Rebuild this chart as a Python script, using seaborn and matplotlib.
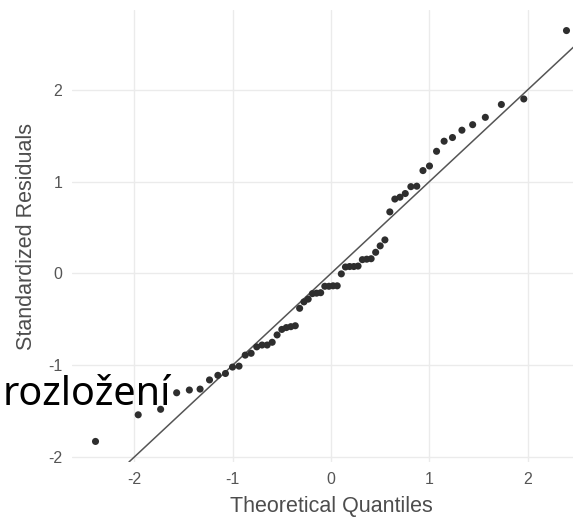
import matplotlib
matplotlib.use("Agg")
import matplotlib.pyplot as plt
import seaborn as sns
import pandas as pd

# Theoretical normal quantiles (n = 60)
theoretical = [-2.394, -1.960, -1.732, -1.569, -1.440, -1.331, -1.235, -1.150, -1.073, -1.001,
               -0.935, -0.872, -0.812, -0.755, -0.701, -0.649, -0.598, -0.548, -0.500, -0.454,
               -0.408, -0.363, -0.319, -0.275, -0.232, -0.189, -0.147, -0.105, -0.063, -0.021,
               0.021, 0.063, 0.105, 0.147, 0.189, 0.232, 0.275, 0.319, 0.363, 0.408,
               0.454, 0.500, 0.548, 0.598, 0.649, 0.701, 0.755, 0.812, 0.872, 0.935,
               1.001, 1.073, 1.150, 1.235, 1.331, 1.440, 1.569, 1.732, 1.960, 2.394]
# Sorted standardized residuals
residuals = [-1.83, -1.54, -1.48, -1.30, -1.27, -1.26, -1.16, -1.11, -1.09, -1.02,
             -1.01, -0.89, -0.87, -0.80, -0.78, -0.78, -0.75, -0.67, -0.61, -0.59,
             -0.58, -0.57, -0.38, -0.31, -0.28, -0.22, -0.215, -0.21, -0.14, -0.14,
             -0.135, -0.135, -0.005, 0.07, 0.075, 0.075, 0.08, 0.15, 0.155, 0.16,
             0.23, 0.30, 0.365, 0.67, 0.81, 0.83, 0.87, 0.945, 0.95, 1.12,
             1.17, 1.33, 1.44, 1.48, 1.56, 1.62, 1.70, 1.84, 1.90, 2.645]
x_ticks = [-2, -1, 0, 1, 2]
y_ticks = [-2, -1, 0, 1, 2]
qq_line_intercept = 0.0
qq_line_slope = 1.0
x_label = "Theoretical Quantiles"
y_label = "Standardized Residuals"
overlay_text = "rozložení"

df = pd.DataFrame({"theoretical": theoretical, "residuals": residuals})

sns.set_theme(style="whitegrid")
plt.rcParams["font.family"] = ["Liberation Sans", "DejaVu Sans"]

fig = plt.figure(figsize=(5.73, 5.18), dpi=100)
W, H = 573, 518
left_px, right_px, top_px, bottom_px = 72, 590, 10, 462
ax = fig.add_axes([left_px / W, (H - bottom_px) / H,
                   (right_px - left_px) / W, (bottom_px - top_px) / H])
ax.set_facecolor("white")

sns.scatterplot(data=df, x="theoretical", y="residuals", ax=ax,
                color="#2e2e2e", s=26, edgecolor="none", zorder=3)
ax.axline((0, qq_line_intercept), slope=qq_line_slope, color="#555555",
          lw=1.1, zorder=2)

ax.set_xlim(-2.633, 2.633)
ax.set_ylim(-2.054, 2.869)
ax.set_xticks(x_ticks)
ax.set_yticks(y_ticks)
ax.set_xticklabels([str(t) for t in x_ticks])
ax.set_yticklabels([str(t) for t in y_ticks])
ax.grid(True, color="#ebebeb", lw=1.0)
for sp in ax.spines.values():
    sp.set_visible(False)
ax.tick_params(axis="both", length=0, pad=7, labelsize=11.5, labelcolor="#555555")
ax.set_xlabel(x_label, fontsize=15.5, color="#4d4d4d", labelpad=7)
ax.set_ylabel(y_label, fontsize=15.5, color="#4d4d4d", labelpad=8)

fig.text(3 / W, (H - 405) / H, overlay_text, fontsize=28.5, color="black",
         ha="left", va="baseline", family=["Noto Sans", "DejaVu Sans"], zorder=10)

fig.savefig("out.png", dpi=100)
